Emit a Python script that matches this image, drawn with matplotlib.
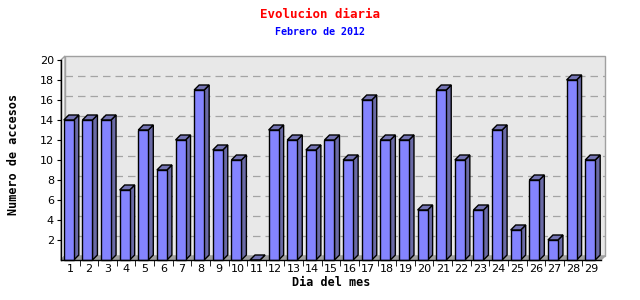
import matplotlib
matplotlib.use('Agg')
import matplotlib.pyplot as plt
from matplotlib.patches import Polygon, Rectangle
from matplotlib.transforms import ScaledTranslation

days = list(range(1, 30))
accesos = [14, 14, 14, 7, 13, 9, 12, 17, 11, 10, 0, 13, 12, 11, 12,
           10, 16, 12, 12, 5, 17, 10, 5, 13, 3, 8, 2, 18, 10]
y_ticks = list(range(2, 21, 2))

title = 'Evolucion diaria'
subtitle = 'Febrero de 2012'
xlabel = 'Dia del mes'
ylabel = 'Numero de accesos'

face = '#8484FF'
side = '#6A6AA6'
top = '#7474B4'

fig = plt.figure(figsize=(6.4, 3), dpi=100)
ax = fig.add_axes([61 / 640, 40 / 300, 540 / 640, 200 / 300])
ax.set_xlim(0.5, 29.5)
ax.set_ylim(0, 20)
ax.patch.set_visible(False)

# pixel size of one data unit
p0 = ax.transData.transform((0, 0))
p1 = ax.transData.transform((1, 1))
ux, uy = p1[0] - p0[0], p1[1] - p0[1]

# back wall, shifted up/right
wall_off = ax.transData + ScaledTranslation(4 / 100, 4 / 100, fig.dpi_scale_trans)
ax.add_patch(Rectangle((0.5, 0), 29, 20, transform=wall_off, facecolor='#E8E8E8',
                       edgecolor='#A0A0A0', lw=1, zorder=0, clip_on=False))
for yv in y_ticks[:-1]:
    ax.plot([0.5, 29.5], [yv, yv], transform=wall_off, color='#A4A4A4',
            lw=0.9, ls=(0, (6, 4)), zorder=0.5, clip_on=False)

wdx, wdy = 4 / ux, 4 / uy
# left side wall and floor
ax.add_patch(Polygon([(0.5, 0), (0.5 + wdx, wdy), (0.5 + wdx, 20 + wdy), (0.5, 20)],
                     facecolor='#F4F4F4', edgecolor='#A0A0A0', lw=1, zorder=0.6, clip_on=False))
ax.add_patch(Polygon([(0.5, 0), (29.5, 0), (29.5 + wdx, wdy), (0.5 + wdx, wdy)],
                     facecolor='#A0A0A0', edgecolor='#A0A0A0', lw=1, zorder=0.6, clip_on=False))

# 3d bars
bw = 10 / ux
bdx, bdy = 5 / ux, 5 / uy
shift = 1.5 / ux
for d, v in zip(days, accesos):
    x0 = d - bw / 2 - shift
    x1 = x0 + bw
    ax.add_patch(Polygon([(x1, 0), (x1 + bdx, bdy), (x1 + bdx, v + bdy), (x1, v)],
                         facecolor=side, edgecolor='black', lw=1, zorder=2, clip_on=False))
    ax.add_patch(Polygon([(x0, v), (x1, v), (x1 + bdx, v + bdy), (x0 + bdx, v + bdy)],
                         facecolor=top, edgecolor='black', lw=1, zorder=2, clip_on=False))
ax.bar([d - shift for d in days], accesos, width=bw, color=face, edgecolor='black',
       lw=1, zorder=3, clip_on=False)

for s in ['top', 'right']:
    ax.spines[s].set_visible(False)
for s in ['left', 'bottom']:
    ax.spines[s].set_linewidth(1)
    ax.spines[s].set_zorder(4)

ax.set_yticks(y_ticks)
ax.set_yticklabels([str(t) for t in y_ticks], fontsize=8)
ax.tick_params(axis='y', direction='out', length=3, pad=2)
ax.set_xticks(days)
ax.set_xticklabels([str(d) for d in days], fontsize=8)
ax.set_xticks([d + 0.5 for d in days[:-1]], minor=True)
ax.tick_params(axis='x', which='major', length=0, pad=3)
ax.tick_params(axis='x', which='minor', direction='out', length=4)

mono = 'DejaVu Sans Mono'
ax.set_xlabel(xlabel, family=mono, fontweight='bold', fontsize=8.5, labelpad=1)
fig.text(14 / 640, 1 - 154 / 300, ylabel, family=mono, fontweight='bold', fontsize=8.5,
         rotation=90, ha='center', va='center')
fig.text(0.5, 1 - 14 / 300, title, family=mono, fontweight='bold', fontsize=9,
         color='red', ha='center', va='center')
fig.text(0.5, 1 - 32 / 300, subtitle, family=mono, fontweight='bold', fontsize=7.2,
         color='blue', ha='center', va='center')

fig.savefig('out.png', dpi=100)
